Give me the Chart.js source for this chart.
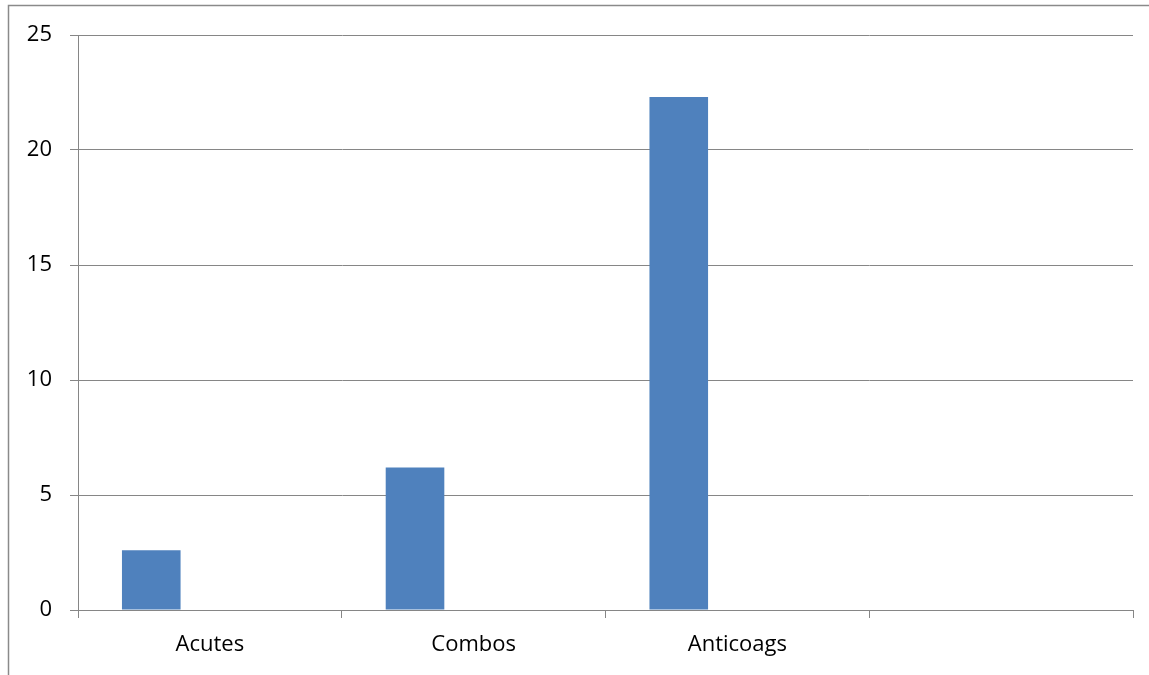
<!DOCTYPE html>
<html>
<head>
<meta charset="utf-8">
<script src="https://cdn.jsdelivr.net/npm/chart.js@4/dist/chart.umd.min.js"></script>
<style>
  html, body { margin: 0; padding: 0; background: #ffffff; }
  #wrap { width: 1149px; height: 675px; }
</style>
</head>
<body>
<div id="wrap"><canvas id="c" width="1149" height="675"></canvas></div>
<script>
// Categories and series values
const categories = ['Acutes', 'Combos', 'Anticoags', ''];
const series1 = [2.6, 6.2, 22.3, null];
const series2 = [null, null, null, null];
const series3 = [null, null, null, null];
const yTicks = [0, 5, 10, 15, 20, 25];

const gridColor = '#868686';
const barColor = '#4F81BD';
const fontSpec = { family: '"Open Sans", Lato, sans-serif', size: 22 };

// Outer chart border, running off the right and bottom edges
const frame = {
  id: 'frame',
  afterDraw(chart) {
    const ctx = chart.ctx;
    ctx.save();
    ctx.strokeStyle = '#8a8a8a';
    ctx.lineWidth = 1.5;
    ctx.beginPath();
    ctx.moveTo(8.5, 700);
    ctx.lineTo(8.5, 5.5);
    ctx.lineTo(1160, 5.5);
    ctx.stroke();
    ctx.restore();
  }
};

new Chart(document.getElementById('c'), {
  type: 'bar',
  data: {
    labels: categories,
    datasets: [
      { data: series1, backgroundColor: barColor },
      { data: series2, backgroundColor: '#C0504D' },
      { data: series3, backgroundColor: '#9BBB59' }
    ]
  },
  options: {
    responsive: false,
    animation: false,
    devicePixelRatio: 1,
    layout: { padding: { left: 0, right: 16, top: 35, bottom: 0 } },
    datasets: { bar: { barPercentage: 1, categoryPercentage: 3 / 4.5 } },
    plugins: { legend: { display: false }, tooltip: { enabled: false } },
    scales: {
      x: {
        offset: true,
        grid: {
          offset: true,
          drawOnChartArea: false,
          drawTicks: true,
          tickLength: 8,
          color: gridColor
        },
        border: { display: true, color: gridColor, width: 1 },
        ticks: { color: '#000', font: fontSpec, padding: 14, maxRotation: 0 },
        afterFit(scale) { scale.height = 65; }
      },
      y: {
        min: 0,
        max: 25,
        afterBuildTicks(scale) { scale.ticks = yTicks.map(v => ({ value: v })); },
        grid: { color: gridColor, tickLength: 8, drawTicks: true },
        border: { display: true, color: gridColor, width: 1 },
        ticks: { color: '#000', font: fontSpec, padding: 18 },
        afterFit(scale) { scale.width = 78; }
      }
    }
  },
  plugins: [frame]
});
</script>
</body>
</html>
